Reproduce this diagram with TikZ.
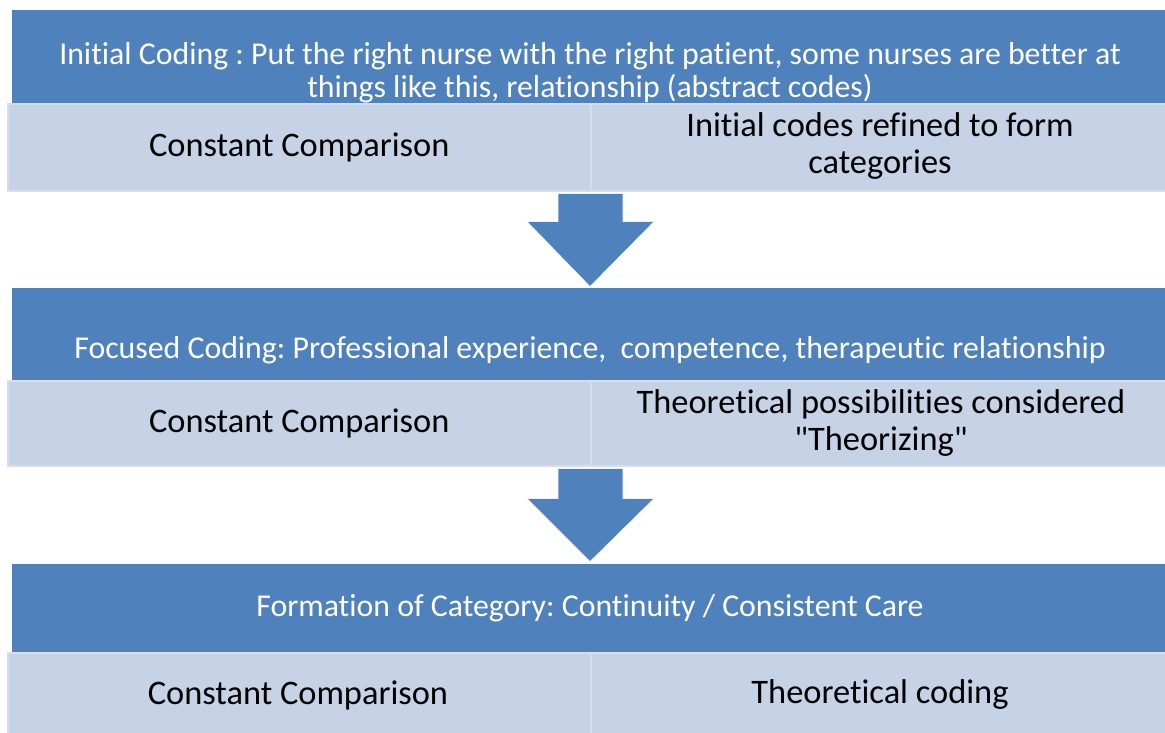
\documentclass[tikz,border=0pt]{standalone}
\usepackage{fontspec}
\setmainfont{Carlito}[Ligatures={TeXOff,NoCommon}]
\frenchspacing
\usetikzlibrary{calc}
\definecolor{barblue}{RGB}{79,129,189}
\definecolor{cellfill}{RGB}{198,210,229}
\definecolor{cellline}{RGB}{214,222,236}
\tikzset{
  x=1pt, y=-1pt,
  bar/.style={fill=barblue, draw=none, anchor=north west, inner sep=0pt},
  cell/.style={fill=cellfill, draw=cellline, line width=1.6pt, anchor=north west, inner sep=0pt},
  headtext/.style={text=white, font=\fontsize{31.8}{33}\selectfont, align=center, inner sep=0pt},
  celltext/.style={text=black, font=\fontsize{34.4}{37}\selectfont, align=center, inner sep=0pt},
  downarrow/.style={fill=barblue, draw=white, line width=0.6pt}
}
\begin{document}
\begin{tikzpicture}
\useasboundingbox (0,0) rectangle (1165,732);

% ---- stage 1 ----
\node[bar, minimum width=1153pt, minimum height=93pt] (b1) at (12,10) {};
\node[cell, minimum width=583pt, minimum height=87pt] (l1) at (7,103) {};
\node[cell, minimum width=577pt, minimum height=87pt] (r1) at (590,103) {};
\node[headtext] (t1) at (590,73) {Initial Coding : Put the right nurse with the right patient, some nurses are better at\\things like this, relationship (abstract codes)};
\node[celltext] (tl1) at (l1.center) {Constant Comparison};
\node[celltext] (tr1) at (880,146) {Initial codes refined to form\\categories};

% ---- stage 2 ----
\node[bar, minimum width=1153pt, minimum height=92pt] (b2) at (12,288) {};
\node[cell, minimum width=583pt, minimum height=85pt] (l2) at (7,380) {};
\node[cell, minimum width=577pt, minimum height=85pt] (r2) at (590,380) {};
\node[headtext] (t2) at (590,350) {Focused Coding: Professional experience,\ \ competence, therapeutic relationship};
\node[celltext] (tl2) at (l2.center) {Constant Comparison};
\node[celltext] (tr2) at (881,423) {Theoretical possibilities considered\\"Theorizing"};

% ---- stage 3 ----
\node[bar, minimum width=1153pt, minimum height=88pt] (b3) at (12,564) {};
\node[cell, minimum width=583pt, minimum height=82pt] (l3) at (7,652) {};
\node[cell, minimum width=577pt, minimum height=82pt] (r3) at (590,652) {};
\node[headtext] (t3) at (590,608) {Formation of Category: Continuity / Consistent Care};
\node[celltext] (tl3) at (298,695) {Constant Comparison};
\node[celltext] (tr3) at (880,695) {Theoretical coding};

% ---- block arrows between stages ----
\draw[downarrow] ($(r1.south west)+(-32,2)$) -- ++(65,0) -- ++(0,28) -- ++(31,0)
  -- ($(r1.south west)+(0,95)$) -- ($(r1.south west)+(-63,30)$) -- ++(31,0) -- cycle;
\draw[downarrow] ($(r2.south west)+(-32,2)$) -- ++(65,0) -- ++(0,30) -- ++(31,0)
  -- ($(r2.south west)+(0,95)$) -- ($(r2.south west)+(-63,32)$) -- ++(31,0) -- cycle;
\end{tikzpicture}
\end{document}
